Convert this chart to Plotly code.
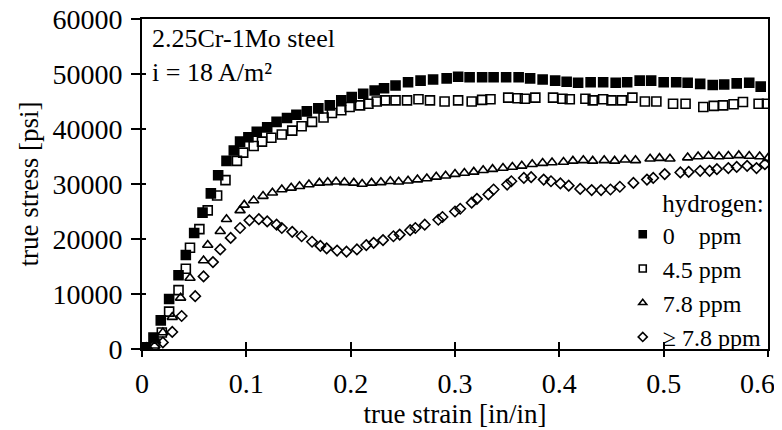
import plotly.graph_objects as go

# ---- data ----
x_0ppm = [0.003, 0.011, 0.018, 0.026, 0.035, 0.042, 0.050, 0.058, 0.066, 0.073, 0.081, 0.088, 0.094, 0.102,
          0.110, 0.120, 0.129, 0.139, 0.148, 0.158, 0.169, 0.180, 0.191, 0.201, 0.212, 0.223, 0.232, 0.243,
          0.255, 0.267, 0.279, 0.292, 0.303, 0.314, 0.326, 0.337, 0.349, 0.361, 0.372, 0.384, 0.396, 0.407,
          0.418, 0.430, 0.442, 0.454, 0.465, 0.477, 0.488, 0.500, 0.512, 0.523, 0.535, 0.547, 0.558, 0.570,
          0.582, 0.593]
y_0ppm = [300, 2100, 5200, 9100, 13400, 17100, 21100, 24800, 28300, 31600, 34200, 36100, 37700, 38500,
          39500, 40300, 41300, 42000, 42600, 43200, 43750, 44300, 45200, 45800, 46400, 47000, 47400, 47900,
          48500, 48800, 49000, 49200, 49500, 49400, 49400, 49400, 49400, 49400, 49200, 49000, 48800, 48600,
          48400, 48500, 48500, 48400, 48500, 48800, 48800, 48500, 48500, 48400, 48200, 48000, 48100, 48300,
          48400, 47700]

x_45ppm = [0.004, 0.012, 0.019, 0.026, 0.035, 0.042, 0.046, 0.055, 0.063, 0.072, 0.080, 0.091, 0.097, 0.107,
           0.115, 0.124, 0.134, 0.144, 0.153, 0.163, 0.174, 0.182, 0.191, 0.199, 0.209, 0.217, 0.225, 0.233,
           0.243, 0.254, 0.265, 0.276, 0.290, 0.303, 0.316, 0.326, 0.334, 0.351, 0.360, 0.367, 0.377, 0.394,
           0.403, 0.410, 0.425, 0.432, 0.442, 0.450, 0.460, 0.470, 0.482, 0.493, 0.509, 0.521, 0.538, 0.548,
           0.557, 0.567, 0.576, 0.591, 0.599]
y_45ppm = [300, 1000, 3000, 6800, 10700, 14600, 18400, 21800, 25200, 27900, 30700, 34200, 35700, 36900,
           37700, 38400, 39000, 39700, 40500, 41300, 42100, 42900, 43400, 44000, 44300, 44600, 45000, 45200,
           45200, 45200, 45400, 45200, 45000, 45200, 45000, 45300, 45400, 45700, 45600, 45500, 45700, 45700,
           45500, 45400, 45500, 45200, 45400, 45200, 45200, 45700, 45000, 45000, 44600, 44600, 44000, 44200,
           44300, 44500, 44900, 44600, 44600]

x_78ppm = [0.004, 0.013, 0.020, 0.029, 0.037, 0.046, 0.059, 0.063, 0.075, 0.081, 0.094, 0.098, 0.107, 0.116,
           0.125, 0.134, 0.143, 0.151, 0.160, 0.170, 0.178, 0.186, 0.194, 0.203, 0.211, 0.220, 0.229, 0.238,
           0.246, 0.255, 0.264, 0.273, 0.282, 0.291, 0.300, 0.309, 0.318, 0.327, 0.336, 0.346, 0.355, 0.364,
           0.374, 0.384, 0.393, 0.404, 0.413, 0.423, 0.432, 0.443, 0.453, 0.463, 0.473, 0.487, 0.496, 0.506,
           0.523, 0.533, 0.543, 0.553, 0.562, 0.572, 0.582, 0.592, 0.600]
y_78ppm = [300, 1500, 3000, 5800, 9300, 12900, 16100, 18900, 21400, 23600, 25200, 26200, 27000, 27800,
           28400, 29000, 29300, 29600, 29900, 30200, 30300, 30400, 30300, 30200, 30000, 30200, 30300, 30500,
           30400, 30600, 30800, 31000, 31300, 31500, 31800, 32000, 32200, 32500, 32700, 32900, 33100, 33300,
           33600, 33800, 33900, 34000, 34200, 34300, 34200, 34300, 34200, 34400, 34300, 34600, 34700, 34600,
           34800, 35000, 35100, 35000, 35100, 35200, 35100, 35000, 34700]

x_gt78 = [0.005, 0.012, 0.020, 0.029, 0.038, 0.051, 0.059, 0.068, 0.075, 0.085, 0.094, 0.103, 0.112, 0.120,
          0.129, 0.134, 0.144, 0.153, 0.163, 0.171, 0.177, 0.187, 0.196, 0.206, 0.215, 0.222, 0.231, 0.241,
          0.247, 0.257, 0.262, 0.271, 0.284, 0.288, 0.300, 0.305, 0.316, 0.321, 0.332, 0.337, 0.350, 0.354,
          0.366, 0.373, 0.385, 0.392, 0.401, 0.409, 0.420, 0.431, 0.440, 0.449, 0.458, 0.471, 0.484, 0.490,
          0.501, 0.516, 0.524, 0.535, 0.544, 0.551, 0.562, 0.570, 0.580, 0.589, 0.597]
y_gt78 = [0, 300, 1200, 3100, 6000, 9600, 13200, 15800, 18100, 20200, 22000, 23400, 23600, 23200,
          22600, 22000, 21300, 20500, 19500, 18750, 18300, 17900, 17700, 18100, 18900, 19300, 19800, 20500,
          20800, 21600, 22000, 22600, 23500, 24000, 25000, 25500, 26600, 27300, 28100, 29000, 29900, 30500,
          31100, 31250, 30800, 30500, 30100, 29700, 29100, 28900, 28900, 29000, 29500, 30200, 30800, 31100,
          31800, 32100, 32200, 32400, 32400, 32700, 32900, 33100, 33300, 32900, 33600]

series_names = ["0\u00a0\u00a0\u00a0\u00a0ppm", "4.5 ppm", "7.8 ppm", "\u2265 7.8 ppm"]
series_x = [x_0ppm, x_45ppm, x_78ppm, x_gt78]
series_y = [y_0ppm, y_45ppm, y_78ppm, y_gt78]
symbols = ["square", "square-open", "triangle-up-open", "diamond-open"]
sizes = [9, 9, 9, 8]

x_ticks = [0, 0.1, 0.2, 0.3, 0.4, 0.5, 0.6]
# last label padded with a blank glyph so it stays inside the window edge, as in the reference
x_tick_labels = ["0", "0.1", "0.2", "0.3", "0.4", "0.5", "0.6\u2800"]
y_ticks = [0, 10000, 20000, 30000, 40000, 50000, 60000]
y_tick_labels = ["0", "10000", "20000", "30000", "40000", "50000", "60000"]

FONT = "Liberation Serif"

fig = go.Figure()
for xs, ys, sym, sz in zip(series_x, series_y, symbols, sizes):
    fig.add_trace(go.Scatter(x=xs, y=ys, mode="markers", showlegend=False,
                             marker=dict(symbol=sym, size=sz, color="black",
                                         line=dict(color="black", width=1.6))))
# legend entries (smaller markers as in the reference legend)
for name, sym in zip(series_names, symbols):
    fig.add_trace(go.Scatter(x=[None], y=[None], mode="markers", name=name,
                             marker=dict(symbol=sym, size=7, color="black",
                                         line=dict(color="black", width=1.6))))

axis_common = dict(showgrid=False, zeroline=False, showline=True, linecolor="black", linewidth=2,
                   ticks="outside", tickcolor="black", tickwidth=2, ticklabeloverflow="allow",
                   tickfont=dict(family=FONT, size=28, color="black"))

# page body has an 8px margin, so the figure is sized 8px smaller in each direction
fig.update_layout(
    width=774, height=422,
    margin=dict(l=134, r=14, t=11, b=75),
    paper_bgcolor="white", plot_bgcolor="white",
    font=dict(family=FONT, color="black"),
    xaxis=dict(range=[0, 0.6], tickvals=x_ticks, ticktext=x_tick_labels, ticklen=6,
               mirror=True, ticklabelstandoff=2, automargin="bottom",
               title=dict(text="true strain [in/in]", font=dict(family=FONT, size=27), standoff=2),
               **axis_common),
    yaxis=dict(range=[0, 60000], tickvals=y_ticks, ticktext=y_tick_labels, ticklen=9,
               mirror=True, ticklabelstandoff=3, automargin="left",
               title=dict(text="true stress [psi]", font=dict(family=FONT, size=27), standoff=6),
               **axis_common),
    # overlay axes for the inner half of the crossing tick marks
    xaxis2=dict(range=[0, 0.6], tickvals=x_ticks, overlaying="x", side="bottom", anchor="y",
                showticklabels=False, ticks="inside", ticklen=7, tickwidth=2, tickcolor="black",
                showgrid=False, zeroline=False, showline=False, automargin=False),
    yaxis2=dict(range=[0, 60000], tickvals=y_ticks, overlaying="y", side="left", anchor="x",
                showticklabels=False, ticks="inside", ticklen=4, tickwidth=2, tickcolor="black",
                showgrid=False, zeroline=False, showline=False, automargin=False),
    legend=dict(x=0.998, y=0.513, xanchor="right", yanchor="top",
                bgcolor="rgba(0,0,0,0)", borderwidth=0, maxheight=400,
                font=dict(family=FONT, size=24, color="black"),
                title=dict(text="\u00a0\u00a0\u00a0\u00a0\u00a0\u00a0hydrogen:", font=dict(family=FONT, size=25)),
                itemwidth=30, tracegroupgap=0),
    annotations=[
        dict(text="2.25Cr-1Mo steel<br>i = 18 A/m\u00b2", xref="paper", yref="paper",
             x=0.012, y=0.99, xanchor="left", yanchor="top", align="left", showarrow=False,
             font=dict(family=FONT, size=26, color="black")),
    ],
)
# dummy invisible trace to activate overlay axes
fig.add_trace(go.Scatter(x=[None], y=[None], xaxis="x2", yaxis="y2", showlegend=False,
                         hoverinfo="skip", mode="markers"))

fig.write_html("out.html")
